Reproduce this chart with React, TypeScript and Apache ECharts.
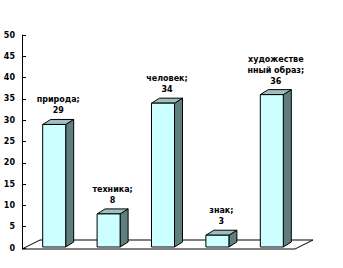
import React, { useEffect, useRef } from "react";
import * as echarts from "echarts";

const categories = ["природа", "техника", "человек", "знак", "художественный образ"];
const labelTexts = ["природа;", "техника;", "человек;", "знак;", "художестве\nнный образ;"];
const values = [29, 8, 34, 3, 36];
const yTicks = { min: 0, max: 50, interval: 5 };

export default function App() {
  const ref = useRef<HTMLDivElement>(null);
  useEffect(() => {
    const chart = echarts.init(ref.current!, null, { renderer: "svg" });
    const bw = 23, dx = 8, dy = 5;
    chart.setOption({
      animation: false,
      backgroundColor: "#ffffff",
      grid: { left: 27, right: 44, top: 35, bottom: 20 },
      xAxis: {
        type: "category",
        data: categories,
        axisLine: { show: false },
        axisTick: { show: false },
        axisLabel: { show: false },
        splitLine: { show: false },
      },
      yAxis: {
        type: "value",
        min: yTicks.min,
        max: yTicks.max,
        interval: yTicks.interval,
        offset: 5,
        axisLine: { show: true, lineStyle: { color: "#000", width: 1 } },
        axisTick: { show: true, inside: true, length: 4, lineStyle: { color: "#000" } },
        splitLine: { show: false },
        axisLabel: { color: "#000", fontSize: 8, fontWeight: "bold", fontFamily: "DejaVu Sans", margin: 7 },
      },
      graphic: [
        {
          type: "polygon",
          z: 0,
          shape: { points: [[22, 249], [40, 240], [313, 240], [295, 249]] },
          style: { fill: "#fff", stroke: "#000", lineWidth: 1 },
        },
      ],
      series: [
        {
          type: "custom",
          z: 5,
          data: values.map((v, i) => [i, v]),
          renderItem: (params: any, api: any) => {
            const idx = api.value(0);
            const val = api.value(1);
            const top = api.coord([idx, val]);
            const base = api.coord([idx, 0]);
            const x0 = top[0] - bw / 2;
            const ty = top[1];
            const by = base[1] - 1;
            return {
              type: "group",
              children: [
                {
                  type: "polygon",
                  shape: { points: [[x0 + bw, ty], [x0 + bw + dx, ty - dy], [x0 + bw + dx, by - dy], [x0 + bw, by]] },
                  style: { fill: "#5f7f7f", stroke: "#000", lineWidth: 1 },
                },
                {
                  type: "polygon",
                  shape: { points: [[x0, ty], [x0 + dx, ty - dy], [x0 + bw + dx, ty - dy], [x0 + bw, ty]] },
                  style: { fill: "#9fbfbf", stroke: "#000", lineWidth: 1 },
                },
                {
                  type: "rect",
                  shape: { x: x0, y: ty, width: bw, height: by - ty },
                  style: { fill: "#ccffff", stroke: "#000", lineWidth: 1 },
                },
                {
                  type: "text",
                  style: {
                    x: x0 + bw / 2 + dx / 2,
                    y: ty - dy - 3,
                    text: labelTexts[idx] + "\n" + values[idx],
                    align: "center",
                    verticalAlign: "bottom",
                    fill: "#000",
                    font: "bold 8px 'DejaVu Sans'",
                    lineHeight: 11,
                  },
                },
              ],
            };
          },
        },
      ],
    });
    return () => chart.dispose();
  }, []);
  return (
    <div
      ref={ref}
      style={{ position: "fixed", left: 0, top: 0, width: 343, height: 268, background: "#fff" }}
    />
  );
}
